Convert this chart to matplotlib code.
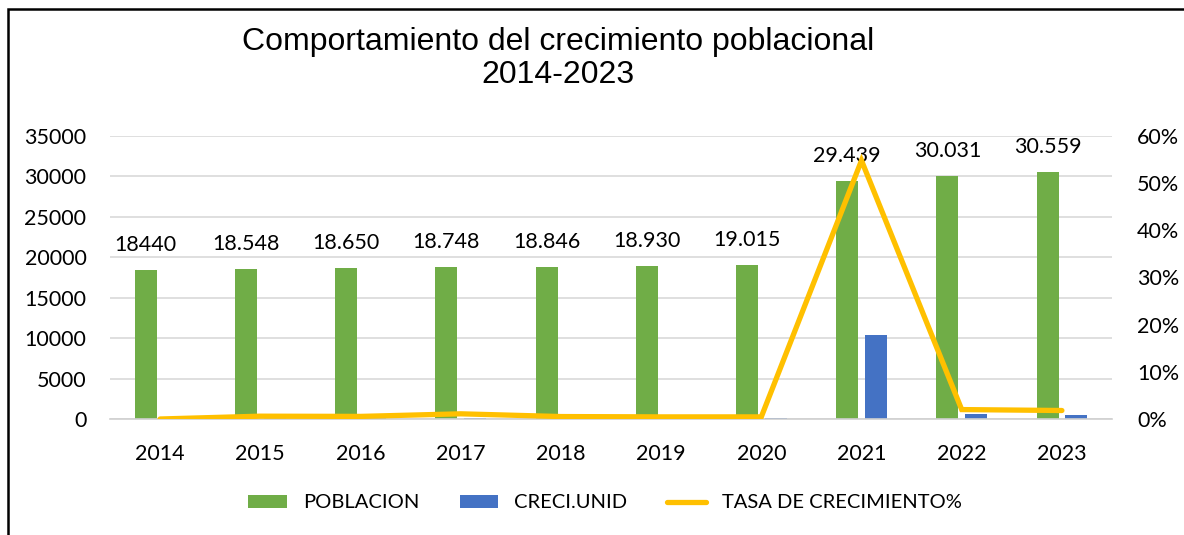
import numpy as np
import matplotlib.pyplot as plt
from matplotlib.ticker import PercentFormatter
from matplotlib.patches import Rectangle

years = ["2014", "2015", "2016", "2017", "2018", "2019", "2020", "2021", "2022", "2023"]
poblacion = [18440, 18548, 18650, 18748, 18846, 18930, 19015, 29439, 30031, 30559]
poblacion_labels = ["18440", "18.548", "18.650", "18.748", "18.846", "18.930", "19.015",
                    "29.439", "30.031", "30.559"]
creci_unid = [0, 108, 102, 98, 98, 84, 85, 10424, 592, 528]
tasa = [0.0, 0.006, 0.0055, 0.011, 0.0052, 0.0045, 0.0045, 0.548, 0.020, 0.018]

green = "#70AD47"
blue = "#4472C4"
yellow = "#FFC000"
font = ["Lato", "DejaVu Sans"]
fs = 15.5

plt.rcParams["font.family"] = font

fig = plt.figure(figsize=(11.84, 5.35), dpi=100)
ax = fig.add_axes([110 / 1184, 116 / 535, 1002 / 1184, 283 / 535])
ax2 = ax.twinx()

x = np.arange(len(years))
w = 0.22
off = 0.143
b1 = ax.bar(x - off, poblacion, w, color=green, label="POBLACION", zorder=2)
b2 = ax.bar(x + off, creci_unid, w, color=blue, label="CRECI.UNID", zorder=2)
for xi, v, lab in zip(x, poblacion, poblacion_labels):
    ax.annotate(lab, (xi - off, v), xytext=(0, 18), textcoords="offset points",
                ha="center", va="center", fontsize=fs, color="#000000")

ln, = ax2.plot(x, tasa, color=yellow, lw=3.8, solid_capstyle="round",
               solid_joinstyle="miter", label="TASA DE CRECIMIENTO%")

ax.set_xlim(-0.5, len(years) - 0.5)
ax.set_ylim(0, 35000)
ax.set_yticks(np.arange(0, 35001, 5000))
ax2.set_ylim(0, 0.6)
ax2.set_yticks(np.arange(0, 0.61, 0.1))
ax2.yaxis.set_major_formatter(PercentFormatter(1.0, decimals=0))
ax.set_xticks(x)
ax.set_xticklabels(years)

ax.grid(axis="y", color="#D9D9D9", lw=1.2, zorder=0)
ax.set_axisbelow(True)
for a in (ax, ax2):
    for s in a.spines.values():
        s.set_visible(False)
    a.tick_params(length=0, labelsize=fs, colors="#000000")
ax.spines["bottom"].set_visible(True)
ax.spines["bottom"].set_color("#D0D0D0")
ax.spines["bottom"].set_linewidth(1.2)
ax.tick_params(axis="y", pad=17)
ax.tick_params(axis="x", pad=18)
ax2.tick_params(axis="y", pad=18)

title_font = ["Liberation Sans", "DejaVu Sans"]
fig.text(558 / 1184, 1 - 42 / 535, "Comportamiento del crecimiento poblacional",
         ha="center", va="center", fontsize=23, family=title_font)
fig.text(558 / 1184, 1 - 75 / 535, "2014-2023",
         ha="center", va="center", fontsize=23, family=title_font)

fig.legend([b1, b2, ln], ["POBLACION", "CRECI.UNID", "TASA DE CRECIMIENTO%"],
           loc="center", bbox_to_anchor=(605 / 1184, 1 - 503 / 535), ncol=3,
           frameon=False, fontsize=fs - 1, handlelength=1.9, handletextpad=0.8,
           columnspacing=2.0, handleheight=0.6)

# chart border: only left and top edges fall inside the picture
fig.patches.append(Rectangle((8 / 1184, -0.05), 1.1, 1.05 - 9 / 535,
                             transform=fig.transFigure, fill=False,
                             edgecolor="#000000", lw=1.8))

fig.savefig("out.png", dpi=100)
